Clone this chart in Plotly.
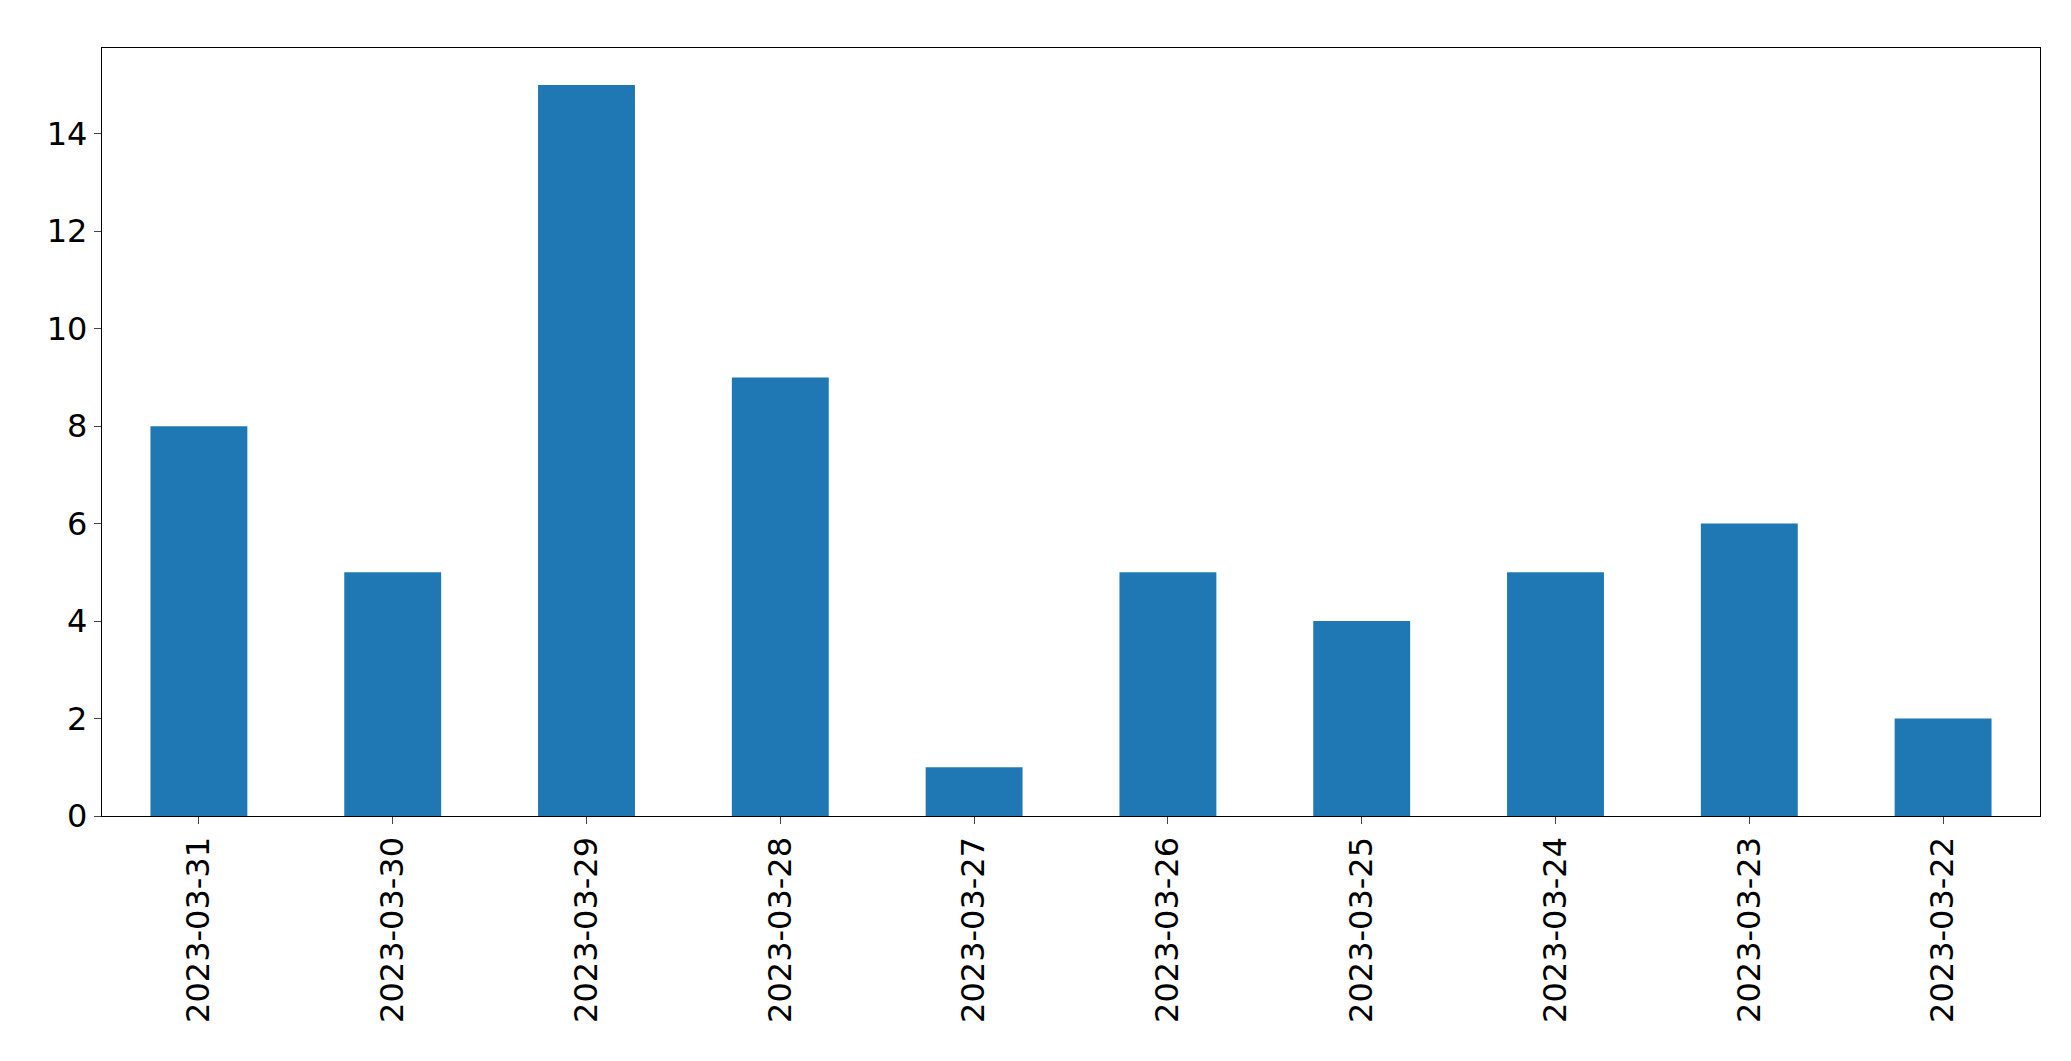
import plotly.graph_objects as go

dates = ["2023-03-31","2023-03-30","2023-03-29","2023-03-28","2023-03-27",
         "2023-03-26","2023-03-25","2023-03-24","2023-03-23","2023-03-22"]
counts = [8, 5, 15, 9, 1, 5, 4, 5, 6, 2]

fig = go.Figure(go.Bar(x=dates, y=counts, marker_color="#1f77b4", marker_line_width=0, width=0.5))
fig.update_layout(
    width=2071, height=1061, paper_bgcolor="white", plot_bgcolor="white",
    margin=dict(l=94, r=39, t=40, b=253),
    font=dict(family="DejaVu Sans", size=32, color="black"),
    showlegend=False,
)
fig.update_xaxes(type="category", range=[-0.5, 9.5], tickangle=-90, ticks="outside",
                 ticklen=7, tickwidth=1.3, showline=True, linecolor="black", linewidth=1.3,
                 mirror=True, showgrid=False)
fig.update_yaxes(range=[0, 15.76], tickvals=[0,2,4,6,8,10,12,14], ticks="outside",
                 ticklen=7, tickwidth=1.3, showline=True, linecolor="black", linewidth=1.3,
                 mirror=True, showgrid=False, zeroline=False)
fig.write_html("out.html")
